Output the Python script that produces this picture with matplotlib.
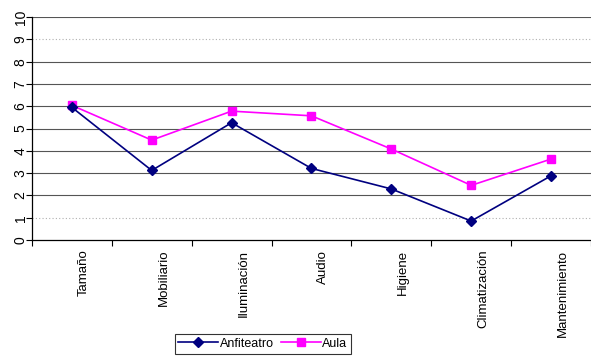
import matplotlib.pyplot as plt
import matplotlib.transforms as mtransforms

plt.rcParams['font.family'] = ['Liberation Sans', 'DejaVu Sans']

categorias = ["Tamaño", "Mobiliario", "Iluminación", "Audio", "Higiene",
              "Climatización", "Mantenimiento"]
anfiteatro = [5.95, 3.12, 5.26, 3.21, 2.29, 0.85, 2.88]
aula = [6.04, 4.48, 5.78, 5.57, 4.08, 2.45, 3.63]

fig = plt.figure(figsize=(5.91, 3.59), dpi=100)
ax = fig.add_axes([0.054, 0.3315, 0.946, 0.621])

x = list(range(len(categorias)))

# lineas de la cuadricula: 1 y 9 punteadas, el resto continuas
for v in range(1, 11):
    if v in (1, 9):
        ax.axhline(v, color="#b0b0b0", lw=0.8, ls=(0, (1, 2)), zorder=1)
    else:
        ax.axhline(v, color="#555555", lw=0.8, zorder=1)

ax.plot(x, anfiteatro, color="#000080", marker="D", markersize=5, lw=1.2,
        label="Anfiteatro", zorder=3)
ax.plot(x, aula, color="#FF00FF", marker="s", markersize=6, lw=1.2,
        label="Aula", zorder=2)

ax.set_xlim(-0.5, len(categorias) - 0.5)
ax.set_ylim(0, 10)

ax.set_yticks(range(0, 11))
ax.set_yticklabels([str(v) for v in range(0, 11)], rotation=90, va="center",
                   fontsize=10)

ax.set_xticks([i + 0.5 for i in range(-1, len(categorias))])
ax.set_xticklabels([])
ax.set_xticks(x, minor=True)
ax.set_xticklabels(categorias, minor=True, rotation=90, fontsize=9.5)
ax.tick_params(axis="x", which="minor", length=0, pad=7)
ax.tick_params(axis="x", which="major", length=4, direction="out", width=0.8)
ax.tick_params(axis="y", length=4, direction="out", width=0.8, pad=-1)

# los textos de categoria quedan un poco a la derecha del punto
desplazamiento = mtransforms.ScaledTranslation(0.12, 0, fig.dpi_scale_trans)
for lbl in ax.get_xticklabels(minor=True):
    lbl.set_transform(lbl.get_transform() + desplazamiento)

for s in ["top", "right"]:
    ax.spines[s].set_visible(False)
for s in ["left", "bottom"]:
    ax.spines[s].set_linewidth(0.9)

leg = fig.legend(loc="upper center", bbox_to_anchor=(0.445, 0.0696), ncol=2,
                 fontsize=9, frameon=True, fancybox=False, edgecolor="black",
                 borderaxespad=0, handlelength=3.2, columnspacing=0.5,
                 handletextpad=0.15, borderpad=0.3)
leg.get_frame().set_linewidth(0.8)

fig.savefig("out.png", dpi=100)
